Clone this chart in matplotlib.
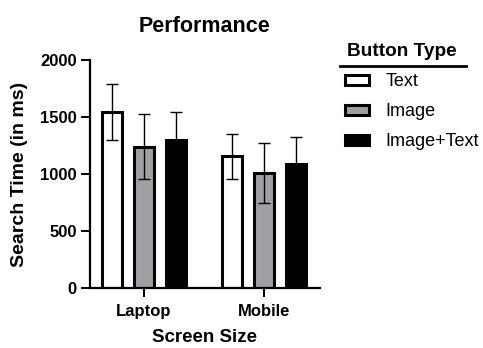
import matplotlib.pyplot as plt
from matplotlib.lines import Line2D
from matplotlib.patches import Patch
import numpy as np

plt.rcParams['font.family'] = ['Liberation Sans', 'DejaVu Sans']

screens = ['Laptop', 'Mobile']
button_types = ['Text', 'Image', 'Image+Text']
means = {
    'Text': [1545, 1155],
    'Image': [1240, 1010],
    'Image+Text': [1300, 1085],
}
errs = {
    'Text': [245, 200],
    'Image': [285, 262],
    'Image+Text': [240, 240],
}
colors = {'Text': 'white', 'Image': '#a0a0a4', 'Image+Text': 'black'}

fig = plt.figure(figsize=(4.83, 3.48), dpi=100)
# axes placed in pixel terms: x 90..320, y 60..288 of 483x348
ax = fig.add_axes([90 / 483, 1 - 288 / 348, 230 / 483, 228 / 348])

x = np.arange(len(screens))
pitch = 0.267
width = 0.165
handles = []
for i, bt in enumerate(button_types):
    pos = x + (i - 1) * pitch
    ax.bar(pos, means[bt], width, color=colors[bt], edgecolor='black',
           linewidth=2.2, zorder=2)
    ax.errorbar(pos, means[bt], yerr=errs[bt], fmt='none', ecolor='black',
                elinewidth=1.0, capsize=4.5, capthick=1.0, zorder=3)
    handles.append(Patch(facecolor=colors[bt], edgecolor='black', linewidth=2.2))

ax.set_xlim(-0.45, 1.467)
ax.set_ylim(0, 2000)
ax.set_yticks([0, 500, 1000, 1500, 2000])
ax.set_xticks(x)
ax.set_xticklabels(screens, fontsize=12, fontweight='bold')
for lab in ax.get_yticklabels():
    lab.set_fontsize(12)
    lab.set_fontweight('bold')
ax.spines['top'].set_visible(False)
ax.spines['right'].set_visible(False)
ax.spines['left'].set_linewidth(1.6)
ax.spines['bottom'].set_linewidth(1.6)
ax.tick_params(axis='both', width=1.4, length=6.5, pad=3)
ax.tick_params(axis='x', pad=5)

ax.set_xlabel('Screen Size', fontsize=13.5, fontweight='bold')
ax.xaxis.set_label_coords(0.5, -0.18)
ax.set_ylabel('Search Time (in ms)', fontsize=14, fontweight='bold')
ax.yaxis.set_label_coords(-0.27, 0.5)
ax.set_title('Performance', fontsize=15.5, fontweight='bold', pad=20)

leg = fig.legend(handles, button_types, loc='upper left',
                 bbox_to_anchor=(338 / 483, 1 - 66 / 348), frameon=False,
                 fontsize=13, handlelength=1.3, handleheight=0.5,
                 handletextpad=0.95, labelspacing=0.72, borderaxespad=0)
fig.text(402 / 483, 1 - 52 / 348, 'Button Type', fontsize=13.7,
         fontweight='bold', ha='center', va='center')
fig.add_artist(Line2D([340 / 483, 466 / 483], [1 - 66 / 348, 1 - 66 / 348],
                      color='black', linewidth=2))

fig.savefig('out.png', dpi=100)
